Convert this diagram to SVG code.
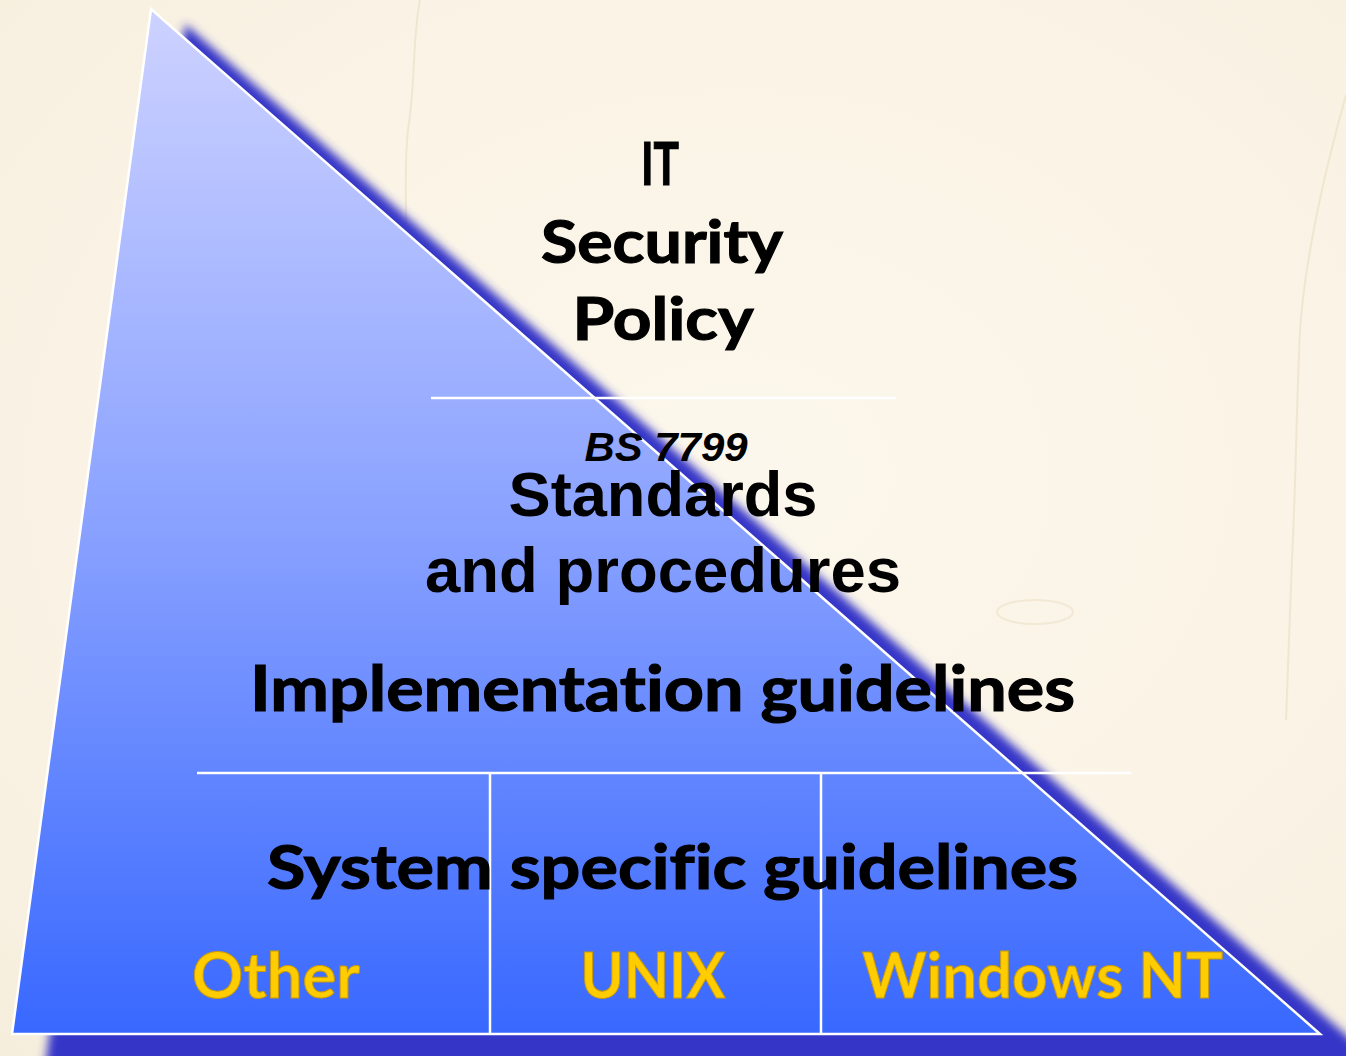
<svg xmlns="http://www.w3.org/2000/svg" width="1346" height="1056" viewBox="0 0 1346 1056">
  <defs>
    <linearGradient id="triGrad" x1="0" y1="9" x2="0" y2="1034" gradientUnits="userSpaceOnUse">
      <stop offset="0" stop-color="#cdd2ff"/>
      <stop offset="0.5" stop-color="#8aa2ff"/>
      <stop offset="1" stop-color="#3868ff"/>
    </linearGradient>
    <radialGradient id="bgGrad" cx="0.55" cy="0.45" r="0.85">
      <stop offset="0" stop-color="#fcf7ec"/>
      <stop offset="0.6" stop-color="#faf3e5"/>
      <stop offset="1" stop-color="#f5ecda"/>
    </radialGradient>
    <filter id="blur" x="-5%" y="-5%" width="110%" height="110%">
      <feGaussianBlur stdDeviation="5"/>
    </filter>
    <style>
      text { font-variant-ligatures: none; }
      .geo { font-family: Lato, "DejaVu Sans", sans-serif; font-weight: 700; fill: #000; stroke: #000; stroke-width: 1.2; }
      .arial { font-family: "Liberation Sans", Arial, sans-serif; font-weight: 700; fill: #000; }
      .yel { font-family: Lato, "DejaVu Sans", sans-serif; font-weight: 700; fill: #ffcc00; stroke: #c99a08; stroke-width: 1; }
      .wl { stroke: #ffffff; stroke-width: 2.5; fill: none; }
      .crack { stroke: #ebdfc8; stroke-width: 2; fill: none; opacity: 0.7; }
    </style>
  </defs>

  <g id="background">
    <rect x="0" y="0" width="1346" height="1056" fill="url(#bgGrad)"/>
    <path class="crack" d="M420 0 C 412 40, 416 80, 408 130 C 402 180, 410 240, 404 330"/>
    <path class="crack" d="M1346 95 C 1325 170, 1305 260, 1300 330 C 1296 420, 1296 480, 1292 560 C 1290 620, 1288 680, 1286 720"/>
    <ellipse cx="1035" cy="612" rx="38" ry="12" fill="none" stroke="#eee3cd" stroke-width="2" opacity="0.7"/>
  </g>

  <g id="pyramid">
    <polygon points="185,24 44,1075 1392,1075" fill="#3434c8" filter="url(#blur)"/>
    <polygon points="151,9 12,1034 1320,1034" fill="url(#triGrad)" stroke="#ffffff" stroke-width="2.5" stroke-linejoin="miter"/>
  </g>

  <g id="connectors">
    <line class="wl" x1="431" y1="398" x2="896" y2="398"/>
    <line class="wl" x1="197" y1="773" x2="1131" y2="773"/>
    <line class="wl" x1="490" y1="773" x2="490" y2="1034"/>
    <line class="wl" x1="821" y1="773" x2="821" y2="1034"/>
  </g>

  <g id="policy">
    <text class="geo" x="660" y="185" font-size="60" text-anchor="middle" textLength="38" lengthAdjust="spacingAndGlyphs" stroke-width="2.2">IT</text>
    <text class="geo" x="662" y="263" font-size="60" text-anchor="middle" textLength="242" lengthAdjust="spacingAndGlyphs">Security</text>
    <text class="geo" x="663" y="340" font-size="60" text-anchor="middle" textLength="181" lengthAdjust="spacingAndGlyphs">Policy</text>
  </g>

  <g id="standards">
    <text class="arial" x="666" y="461" font-size="41" font-style="italic" text-anchor="middle" textLength="163" lengthAdjust="spacingAndGlyphs">BS 7799</text>
    <text class="arial" x="663" y="516" font-size="63" text-anchor="middle" textLength="309" lengthAdjust="spacingAndGlyphs">Standards</text>
    <text class="arial" x="663" y="592" font-size="63" text-anchor="middle" textLength="476" lengthAdjust="spacingAndGlyphs">and procedures</text>
  </g>

  <g id="implementation">
    <text class="geo" x="662.5" y="711" font-size="63" text-anchor="middle" textLength="825" lengthAdjust="spacingAndGlyphs">Implementation guidelines</text>
  </g>

  <g id="system">
    <text class="geo" x="672.5" y="889" font-size="62" text-anchor="middle" textLength="811" lengthAdjust="spacingAndGlyphs">System specific guidelines</text>
  </g>

  <g id="other">
    <text class="yel" x="276" y="998" font-size="63" text-anchor="middle" textLength="168" lengthAdjust="spacingAndGlyphs">Other</text>
  </g>
  <g id="unix">
    <text class="yel" x="653" y="998" font-size="63" text-anchor="middle" textLength="145" lengthAdjust="spacingAndGlyphs">UNIX</text>
  </g>
  <g id="windows">
    <text class="yel" x="1042.5" y="998" font-size="63" text-anchor="middle" textLength="361" lengthAdjust="spacingAndGlyphs">Windows NT</text>
  </g>
</svg>
